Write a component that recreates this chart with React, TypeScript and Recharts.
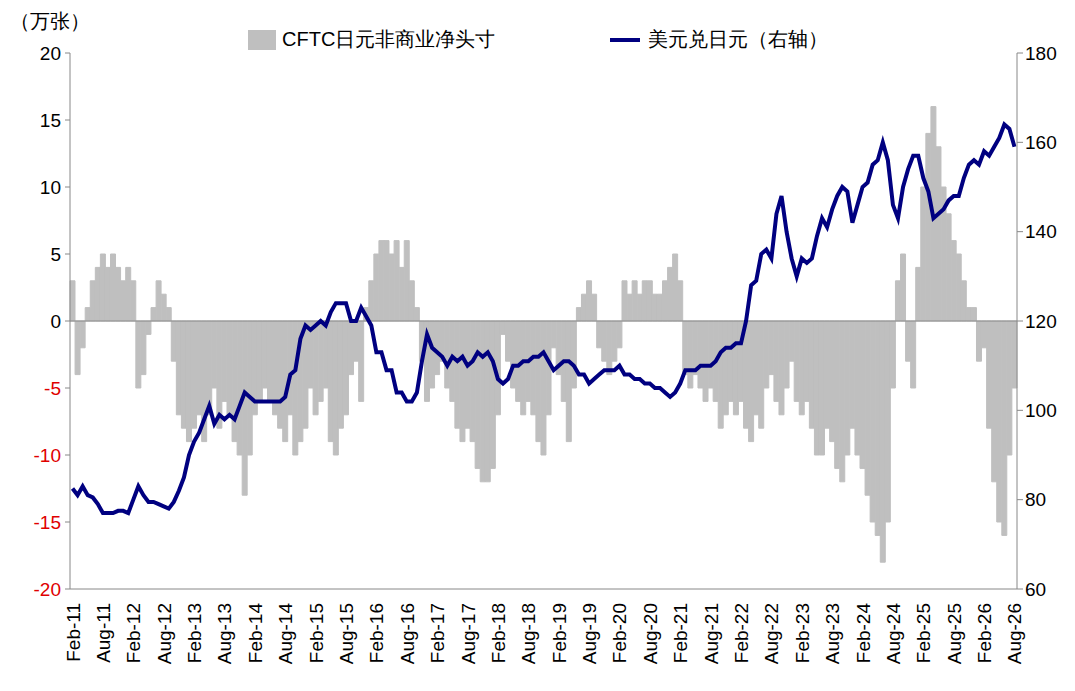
import React from "react";
import { Bar, ComposedChart, Line, ReferenceLine, XAxis, YAxis } from "recharts";

const startYear = 2011;
const monthNames = ["Jan", "Feb", "Mar", "Apr", "May", "Jun", "Jul", "Aug", "Sep", "Oct", "Nov", "Dec"];

// CFTC yen non-commercial net positions (10k contracts), monthly from Feb-11
const positions = [
  3, -4, -2, 1, 3, 4, 5, 4, 5, 4, 3,
  4, 3, -5, -4, -1, 1, 3, 2, 1, -3, -7, -8,
  -9, -8, -7, -9, -7, -5, -8, -6, -7, -9, -10, -13,
  -10, -7, -6, -5, -6, -7, -8, -9, -7, -10, -9, -8,
  -5, -7, -6, -5, -9, -10, -8, -7, -4, -3, -6, 1,
  3, 5, 6, 6, 5, 6, 4, 6, 3, 1, -3, -6,
  -5, -4, -3, -5, -6, -8, -9, -8, -9, -11, -12, -12,
  -11, -7, -1, -3, -5, -6, -7, -6, -7, -9, -10, -7,
  -2, -4, -6, -9, -5, 1, 2, 3, 2, -2, -3, -4,
  -3, -2, 3, 2, 3, 2, 3, 3, 2, 2, 3, 4,
  5, 3, -4, -5, -4, -5, -6, -5, -6, -8, -7, -6,
  -7, -6, -8, -9, -7, -8, -5, -4, -6, -7, -5, -3,
  -6, -7, -6, -8, -10, -10, -8, -9, -11, -12, -10, -8,
  -10, -11, -13, -15, -16, -18, -15, -5, 3, 5, -3, -5,
  4, 10, 14, 16, 13, 10, 8, 6, 5, 3, 1, 1,
  -3, -2, -8, -12, -15, -16, -10, -5,
];

// USD/JPY (right axis)
const usdjpy = [
  82.5, 81, 83, 81, 80.5, 79, 77, 77, 77, 77.5, 77.5,
  77, 80, 83, 81, 79.5, 79.5, 79, 78.5, 78, 79.5, 82, 85,
  90, 93, 95, 98, 101, 97, 99, 98, 99, 98, 101, 104,
  103, 102, 102, 102, 102, 102, 102, 103, 108, 109, 116, 119,
  118, 119, 120, 119, 122, 124, 124, 124, 120, 120, 123, 121,
  119, 113, 113, 109, 109, 104, 104, 102, 102, 104, 111, 117,
  114, 113, 112, 110, 112, 111, 112, 110, 111, 113, 112, 113,
  111, 107, 106, 107, 110, 110, 111, 111, 112, 112, 113, 111,
  109, 110, 111, 111, 110, 108, 108, 106, 107, 108, 109, 109,
  109, 110, 108, 108, 107, 107, 106, 106, 105, 105, 104, 103,
  104, 106, 109, 109, 109, 110, 110, 110, 111, 113, 114, 114,
  115, 115, 120, 128, 129, 135, 136, 134, 144, 148, 140, 134,
  130, 134, 133, 134, 139, 143, 141, 145, 148, 150, 149, 142,
  146, 150, 151, 155, 156, 160, 156, 146, 143, 150, 154, 157,
  157, 152, 149, 143, 144, 145, 147, 148, 148, 152, 155, 156,
  155, 158, 157, 159, 161, 164, 163, 159,
];

const leftTicks = [-20, -15, -10, -5, 0, 5, 10, 15, 20];
const rightTicks = [60, 80, 100, 120, 140, 160, 180];

const data = positions.map((p, i) => {
  const m = i + 1;
  const y = startYear + Math.floor(m / 12);
  return {
    month: `${monthNames[m % 12]}-${String(y % 100).padStart(2, "0")}`,
    pos: p,
    fx: usdjpy[i],
  };
});

const font = "'Liberation Sans', Arial, sans-serif";

const XTick = (props: any) => {
  const { x, y, payload } = props;
  return (
    <text x={x + 7} y={y + 6} transform={`rotate(-90 ${x + 7} ${y + 6})`} textAnchor="end" fontSize={19} fill="#000" fontFamily={font}>
      {payload.value}
    </text>
  );
};

const LeftTick = (props: any) => {
  const { x, y, payload } = props;
  return (
    <text x={x - 2} y={y + 7} textAnchor="end" fontSize={19} fill={payload.value < 0 ? "#e00000" : "#000"} fontFamily={font}>
      {payload.value}
    </text>
  );
};

export default function App() {
  return (
    <div style={{ position: "fixed", left: 0, top: 0, width: 1075, height: 691, background: "#fff", fontFamily: font }}>
      <div style={{ position: "absolute", left: 10, top: 8, fontSize: 20 }}>（万张）</div>
      <div style={{ position: "absolute", left: 248, top: 26, fontSize: 20, display: "flex", alignItems: "center" }}>
        <span style={{ display: "inline-block", width: 28, height: 20, background: "#bfbfbf", marginRight: 6 }} />
        CFTC日元非商业净头寸
      </div>
      <div style={{ position: "absolute", left: 610, top: 26, fontSize: 20, display: "flex", alignItems: "center" }}>
        <span style={{ display: "inline-block", width: 30, height: 4, background: "#000080", marginRight: 8 }} />
        美元兑日元（右轴）
      </div>
      <ComposedChart width={1075} height={691} data={data} margin={{ top: 53, right: 0, bottom: 0, left: 0 }} barCategoryGap={0} barGap={0}>
        <XAxis dataKey="month" interval={5} tick={<XTick />} height={102} stroke="#888" tickLine={false} />
        <YAxis yAxisId="l" domain={[-20, 20]} ticks={leftTicks} width={70} tick={<LeftTick />} stroke="#888" tickSize={5} />
        <YAxis yAxisId="r" orientation="right" domain={[60, 180]} ticks={rightTicks} width={58} stroke="#888" tick={{ fontSize: 19, fill: "#000", fontFamily: font }} />
        <Bar yAxisId="l" dataKey="pos" fill="#bfbfbf" stroke="#bfbfbf" strokeWidth={1} isAnimationActive={false} />
        <ReferenceLine yAxisId="l" y={0} stroke="#888" />
        <Line yAxisId="r" dataKey="fx" stroke="#000080" strokeWidth={4} dot={false} isAnimationActive={false} />
      </ComposedChart>
    </div>
  );
}
